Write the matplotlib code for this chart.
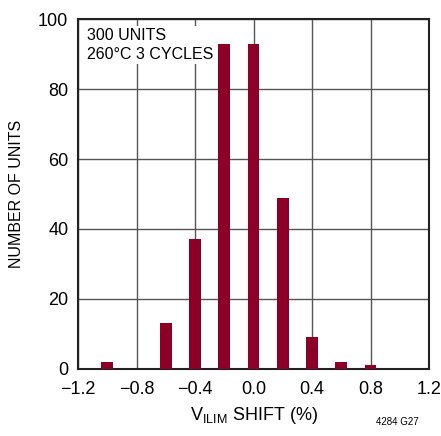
import matplotlib.pyplot as plt
from matplotlib import font_manager

shift = [-1.0, -0.6, -0.4, -0.2, 0.0, 0.2, 0.4, 0.6, 0.8]
units = [2, 13, 37, 93, 93, 49, 9, 2, 1]
xticks = [-1.2, -0.8, -0.4, 0.0, 0.4, 0.8, 1.2]
xtick_labels = ["\u22121.2", "\u22120.8", "\u22120.4", "0.0", "0.4", "0.8", "1.2"]
yticks = [0, 20, 40, 60, 80, 100]

names = {f.name for f in font_manager.fontManager.ttflist}
family = "Liberation Sans Narrow" if "Liberation Sans Narrow" in names else "Liberation Sans"
plt.rcParams["font.family"] = [family, "DejaVu Sans"]

fig = plt.figure(figsize=(4.41, 4.36), dpi=100)
ax = fig.add_axes([0.177, 0.154, 0.796, 0.802])

ax.bar(shift, units, width=0.08, color="#8c0028", zorder=5)

ax.set_xlim(-1.2, 1.2)
ax.set_ylim(0, 100)
ax.set_xticks(xticks)
ax.set_xticklabels(xtick_labels)
ax.set_yticks(yticks)
ax.tick_params(labelsize=13, length=0)
ax.tick_params(axis="x", pad=9)
ax.tick_params(axis="y", pad=7)
ax.grid(True, color="#555555", linewidth=1.0, zorder=1)
for s in ax.spines.values():
    s.set_linewidth(1.5)
    s.set_color("#222222")

ax.set_xlabel("V$_{\\mathregular{ILIM}}$ SHIFT (%)", fontsize=13, labelpad=5)
ax.set_ylabel("NUMBER OF UNITS", fontsize=11.5, labelpad=10)

ax.text(0.025, 0.975, "300 UNITS\n260\u00b0C 3 CYCLES", transform=ax.transAxes,
        fontsize=11.5, va="top", ha="left", linespacing=1.35, zorder=4,
        bbox=dict(facecolor="white", edgecolor="none", pad=1))

fig.text(0.95, 0.02, "4284 G27", fontsize=7, ha="right", va="bottom")

fig.savefig("out.png", dpi=100)
